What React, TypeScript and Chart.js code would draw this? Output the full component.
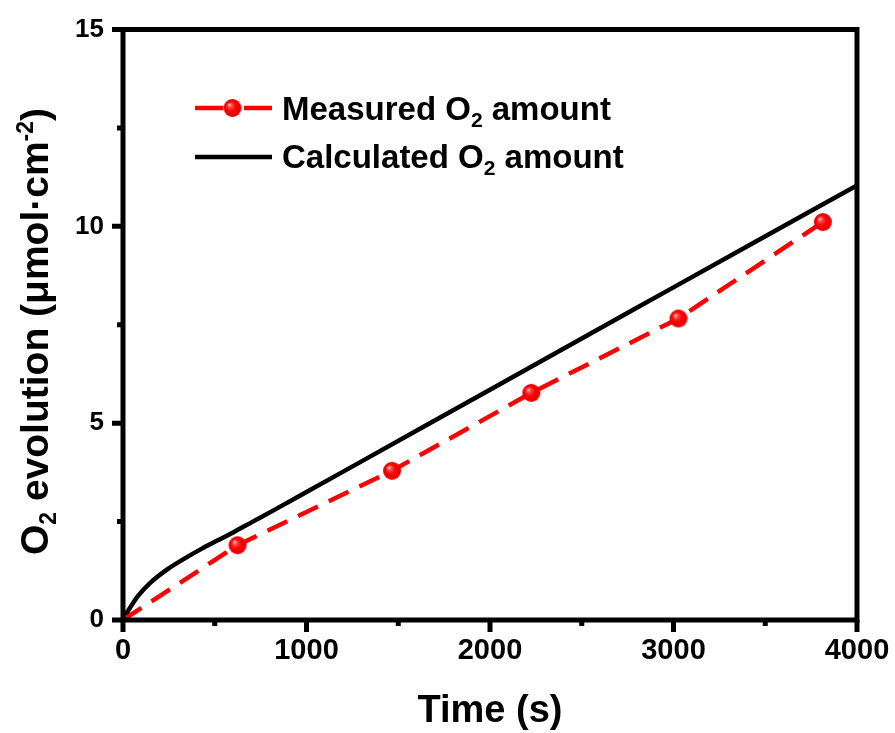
import React, { useEffect, useRef } from "react";
import { Chart, registerables } from "chart.js";

Chart.register(...registerables);

// Measured O2 amounts (time in s, amount in µmol·cm⁻²)
const measuredTime = [0, 624, 1466, 2225, 3027, 3814];
const measuredO2 = [0, 1.9, 3.79, 5.77, 7.66, 10.11];

// Calculated O2 amount curve
const calcTime = [0, 25, 80, 150, 245, 335, 425, 520, 610, 700, 830, 1000, 1300, 2000, 2400, 2800, 3400, 4000];
const calcO2 = [0, 0.21, 0.6, 0.95, 1.3, 1.56, 1.8, 2.03, 2.25, 2.48, 2.81, 3.25, 4.03, 5.85, 6.89, 7.93, 9.49, 11.04];

// Axis ticks
const xMajorTicks = [0, 1000, 2000, 3000, 4000];
const xMinorTicks = [500, 1500, 2500, 3500];
const yMajorTicks = [0, 5, 10, 15];
const yMinorTicks = [2.5, 7.5, 12.5];

const FONT = '"Liberation Sans", Arial, sans-serif';
const RED = "#ff0000";

type Seg = { text: string; size: number; dy: number };

function makeSphere(r: number): HTMLCanvasElement {
  const c = document.createElement("canvas");
  const s = Math.ceil(r * 2 + 2);
  c.width = s;
  c.height = s;
  const g = c.getContext("2d")!;
  const cx = s / 2;
  const cy = s / 2;
  const grad = g.createRadialGradient(cx - r * 0.38, cy - r * 0.38, 0, cx, cy, r);
  grad.addColorStop(0, "#ffe4e4");
  grad.addColorStop(0.22, "#ff5050");
  grad.addColorStop(0.55, "#ff0000");
  grad.addColorStop(1, "#e00000");
  g.fillStyle = grad;
  g.beginPath();
  g.arc(cx, cy, r, 0, Math.PI * 2);
  g.fill();
  return c;
}

function segWidth(ctx: CanvasRenderingContext2D, segs: Seg[]) {
  let w = 0;
  for (const s of segs) {
    ctx.font = `bold ${s.size}px ${FONT}`;
    w += ctx.measureText(s.text).width;
  }
  return w;
}

function drawSegs(ctx: CanvasRenderingContext2D, segs: Seg[], x: number, y: number) {
  let cx = x;
  ctx.textAlign = "left";
  ctx.textBaseline = "alphabetic";
  for (const s of segs) {
    ctx.font = `bold ${s.size}px ${FONT}`;
    ctx.fillText(s.text, cx, y + s.dy);
    cx += ctx.measureText(s.text).width;
  }
}

function noScalePadding(scale: any) {
  scale.paddingTop = 0;
  scale.paddingBottom = 0;
  scale.paddingLeft = 0;
  scale.paddingRight = 0;
}

export default function App() {
  const ref = useRef<HTMLCanvasElement | null>(null);

  useEffect(() => {
    const canvas = ref.current;
    if (!canvas) return;
    const sphere = makeSphere(9);

    const framePlugin = {
      id: "frameAndLabels",
      afterDraw(chart: any) {
        const { ctx, chartArea, scales } = chart;
        const xs = scales.x;
        const ys = scales.y;
        const { left, right, top, bottom } = chartArea;
        ctx.save();
        ctx.strokeStyle = "#000";
        ctx.lineWidth = 5;
        ctx.lineCap = "butt";
        // frame
        ctx.strokeRect(left, top, right - left, bottom - top);
        // outward ticks
        ctx.beginPath();
        for (const v of xMajorTicks) {
          const px = xs.getPixelForValue(v);
          ctx.moveTo(px, bottom);
          ctx.lineTo(px, bottom + 12);
        }
        for (const v of xMinorTicks) {
          const px = xs.getPixelForValue(v);
          ctx.moveTo(px, bottom);
          ctx.lineTo(px, bottom + 6);
        }
        for (const v of yMajorTicks) {
          const py = ys.getPixelForValue(v);
          ctx.moveTo(left, py);
          ctx.lineTo(left - 11, py);
        }
        for (const v of yMinorTicks) {
          const py = ys.getPixelForValue(v);
          ctx.moveTo(left, py);
          ctx.lineTo(left - 6, py);
        }
        ctx.stroke();

        ctx.fillStyle = "#000";
        // x title
        ctx.font = `bold 38px ${FONT}`;
        ctx.textAlign = "center";
        ctx.textBaseline = "alphabetic";
        ctx.fillText("Time (s)", (left + right) / 2, 722);

        // y title, rotated
        const ySegs: Seg[] = [
          { text: "O", size: 39, dy: 0 },
          { text: "2", size: 23, dy: 8 },
          { text: " evolution (μmol·cm", size: 39, dy: 0 },
          { text: "-2", size: 23, dy: -15 },
          { text: ")", size: 39, dy: 0 },
        ];
        ctx.save();
        ctx.translate(48, 331.5);
        ctx.rotate(-Math.PI / 2);
        const w = segWidth(ctx, ySegs);
        drawSegs(ctx, ySegs, -w / 2, 0);
        ctx.restore();

        // legend
        const lx0 = 195;
        const lx1 = 272;
        const row1 = 108;
        const row2 = 157;
        ctx.lineWidth = 4.5;
        ctx.strokeStyle = RED;
        ctx.beginPath();
        ctx.moveTo(lx0, row1);
        ctx.lineTo(lx0 + 28, row1);
        ctx.moveTo(lx1 - 28, row1);
        ctx.lineTo(lx1, row1);
        ctx.stroke();
        ctx.drawImage(sphere, (lx0 + lx1) / 2 - sphere.width / 2 - 1, row1 - sphere.height / 2);
        ctx.strokeStyle = "#000";
        ctx.beginPath();
        ctx.moveTo(lx0, row2);
        ctx.lineTo(lx1, row2);
        ctx.stroke();

        ctx.fillStyle = "#000";
        drawSegs(
          ctx,
          [
            { text: "Measured O", size: 33, dy: 0 },
            { text: "2", size: 21, dy: 7 },
            { text: " amount", size: 33, dy: 0 },
          ],
          282,
          row1 + 12
        );
        drawSegs(
          ctx,
          [
            { text: "Calculated O", size: 33, dy: 0 },
            { text: "2", size: 21, dy: 7 },
            { text: " amount", size: 33, dy: 0 },
          ],
          282,
          row2 + 11
        );
        ctx.restore();
      },
    };

    const chart = new Chart(canvas, {
      type: "scatter",
      data: {
        datasets: [
          {
            label: "Measured O2 amount",
            data: measuredTime.map((t, i) => ({ x: t, y: measuredO2[i] })),
            showLine: true,
            borderColor: RED,
            borderWidth: 4.5,
            borderDash: [22, 12],
            pointStyle: sphere as any,
            pointRadius: measuredTime.map((t) => (t === 0 ? 0 : 9)),
            pointHoverRadius: 0,
            tension: 0,
          },
          {
            label: "Calculated O2 amount",
            data: calcTime.map((t, i) => ({ x: t, y: calcO2[i] })),
            showLine: true,
            borderColor: "#000",
            borderWidth: 4.5,
            pointRadius: 0,
            cubicInterpolationMode: "monotone",
          },
        ],
      },
      options: {
        responsive: false,
        animation: false,
        layout: { padding: { top: 29.5, right: 38, left: 0, bottom: 0 } },
        plugins: {
          legend: { display: false },
          tooltip: { enabled: false },
        },
        scales: {
          x: {
            type: "linear",
            min: 0,
            max: 4000,
            afterFit(scale: any) {
              scale.height = 113;
              noScalePadding(scale);
            },
            afterBuildTicks(scale: any) {
              scale.ticks = xMajorTicks.map((v) => ({ value: v }));
            },
            grid: { display: false, drawTicks: false },
            border: { display: false },
            ticks: {
              padding: 14,
              color: "#000",
              maxRotation: 0,
              font: { family: FONT, size: 29, weight: "bold" },
              callback: (v: any) => String(v),
            },
          },
          y: {
            type: "linear",
            min: 0,
            max: 15,
            afterFit(scale: any) {
              scale.width = 123;
              noScalePadding(scale);
            },
            afterBuildTicks(scale: any) {
              scale.ticks = yMajorTicks.map((v) => ({ value: v }));
            },
            grid: { display: false, drawTicks: false },
            border: { display: false },
            ticks: {
              padding: 19,
              color: "#000",
              font: { family: FONT, size: 26, weight: "bold" },
              callback: (v: any) => String(v),
            },
          },
        },
      },
      plugins: [framePlugin],
    } as any);

    return () => chart.destroy();
  }, []);

  return (
    <div style={{ position: "fixed", left: 0, top: 0, width: 895, height: 733, background: "#fff" }}>
      <canvas ref={ref} width={895} height={733} style={{ display: "block" }} />
    </div>
  );
}
